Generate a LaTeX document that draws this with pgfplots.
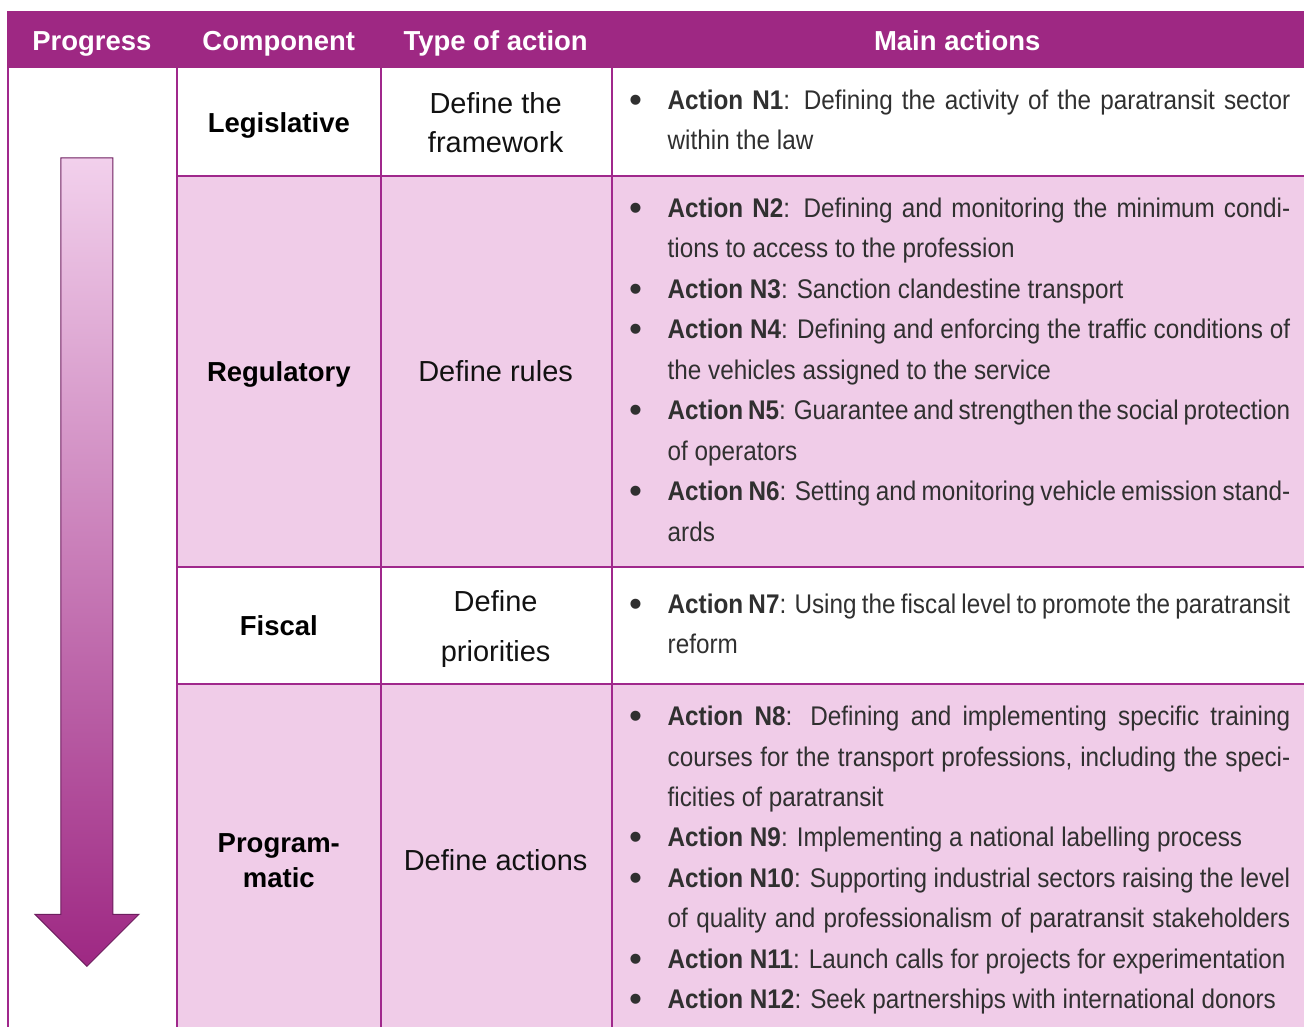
\documentclass[border=0pt]{standalone}
\usepackage{pgfplots}
\pgfplotsset{compat=1.18}
\usepackage{fontspec}
\setmainfont{Liberation Sans}
\newfontfamily\actfont[FakeStretch=0.9]{Liberation Sans}
\definecolor{hdr}{RGB}{158,40,131}
\definecolor{pinkbg}{RGB}{240,204,232}
\definecolor{rulec}{RGB}{160,40,140}
\definecolor{arrtop}{RGB}{242,208,236}
\definecolor{arredge}{RGB}{110,30,95}
\definecolor{acttxt}{RGB}{48,48,48}
\newcommand\actsize{\actfont\fontsize{27}{40}\selectfont}
\newcommand\FL[2]{\node[anchor=base west,inner sep=0pt,font=\actsize,text=acttxt] at (axis cs:668,#1) {\spaceskip=0.25em plus 1em minus 0.12em\makebox[623pt][s]{#2}};}
\newcommand\LL[2]{\node[anchor=base west,inner sep=0pt,font=\actsize,text=acttxt] at (axis cs:668,#1) {#2};}
\newcommand\BU[1]{\node[anchor=base,inner sep=0pt,font=\fontsize{37}{40}\selectfont,text=acttxt] at (axis cs:636,#1+3) {\char"2022};}
\newcommand\HD[3]{\node[anchor=base,inner sep=0pt,font=\bfseries\fontsize{27.5}{30}\selectfont,text=white] at (axis cs:#1,#2) {#3};}
\newcommand\CP[3]{\node[anchor=base,inner sep=0pt,font=\bfseries\fontsize{27.5}{30}\selectfont,text=black] at (axis cs:#1,#2) {#3};}
\newcommand\TY[3]{\node[anchor=base,inner sep=0pt,font=\fontsize{29}{30}\selectfont,text=black!93] at (axis cs:#1,#2) {#3};}
\begin{document}
\begin{tikzpicture}
\begin{axis}[hide axis, scale only axis, width=1305pt, height=1028pt,
  xmin=0, xmax=1305, ymin=0, ymax=1028, y dir=reverse, clip=false]
% background
\addplot[fill=white,draw=none,forget plot] coordinates {(0,0) (1305,0) (1305,1028) (0,1028)} -- cycle;
% header
\addplot[fill=hdr,draw=none,forget plot] coordinates {(7,11) (1305,11) (1305,68) (7,68)} -- cycle;
% pink rows
\addplot[fill=pinkbg,draw=none,forget plot] coordinates {(177,176) (1305,176) (1305,567) (177,567)} -- cycle;
\addplot[fill=pinkbg,draw=none,forget plot] coordinates {(177,685) (1305,685) (1305,1028) (177,1028)} -- cycle;
% rules
\addplot[rulec,line width=2pt,forget plot] coordinates {(8,68) (8,1028)};
\addplot[rulec,line width=2pt,forget plot] coordinates {(177,68) (177,1028)};
\addplot[rulec,line width=2pt,forget plot] coordinates {(381,68) (381,1028)};
\addplot[rulec,line width=2pt,forget plot] coordinates {(612,68) (612,1028)};
\addplot[rulec,line width=2pt,forget plot] coordinates {(177,176) (1305,176)};
\addplot[rulec,line width=2pt,forget plot] coordinates {(177,567) (1305,567)};
\addplot[rulec,line width=2pt,forget plot] coordinates {(177,685) (1305,685)};
% arrow
\shade[top color=arrtop, bottom color=hdr, draw=arredge, line width=1pt]
  (axis cs:61,158) -- (axis cs:113,158) -- (axis cs:113,915) -- (axis cs:139,915)
  -- (axis cs:87,967) -- (axis cs:35,915) -- (axis cs:61,915) -- cycle;
% header text
\HD{92}{51}{Progress}
\HD{279}{51}{Component}
\HD{496}{51}{Type of action}
\HD{958}{51}{Main actions}
% component
\CP{279}{133}{Legislative}
\CP{279}{382}{Regulatory}
\CP{279}{636}{Fiscal}
\CP{279}{853}{Program-}
\CP{279}{888}{matic}
% type of action
\TY{496}{114}{Define the}
\TY{496}{153}{framework}
\TY{496}{382}{Define rules}
\TY{496}{612}{Define}
\TY{496}{662}{priorities}
\TY{496}{871}{Define actions}
% main actions
\BU{110}\FL{110}{\textbf{Action N1}: Defining the activity of the paratransit sector}
\LL{150}{within the law}
\BU{218}\FL{218}{\textbf{Action N2}: Defining and monitoring the minimum condi-}
\LL{258}{tions to access to the profession}
\BU{299}\LL{299}{\textbf{Action N3}: Sanction clandestine transport}
\BU{339}\FL{339}{\textbf{Action N4}: Defining and enforcing the traffic conditions of}
\LL{380}{the vehicles assigned to the service}
\BU{420}\FL{420}{\textbf{Action N5}: Guarantee and strengthen the social protection}
\LL{461}{of operators}
\BU{501}\FL{501}{\textbf{Action N6}: Setting and monitoring vehicle emission stand-}
\LL{542}{ards}
\BU{614}\FL{614}{\textbf{Action N7}: Using the fiscal level to promote the paratransit}
\LL{654}{reform}
\BU{726}\FL{726}{\textbf{Action N8}: Defining and implementing specific training}
\FL{767}{courses for the transport professions, including the speci-}
\LL{807}{ficities of paratransit}
\BU{847}\LL{847}{\textbf{Action N9}: Implementing a national labelling process}
\BU{888}\FL{888}{\textbf{Action N10}: Supporting industrial sectors raising the level}
\FL{928}{of quality and professionalism of paratransit stakeholders}
\BU{969}\LL{969}{\textbf{Action N11}: Launch calls for projects for experimentation}
\BU{1009}\LL{1009}{\textbf{Action N12}: Seek partnerships with international donors}
\end{axis}
\end{tikzpicture}
\end{document}
